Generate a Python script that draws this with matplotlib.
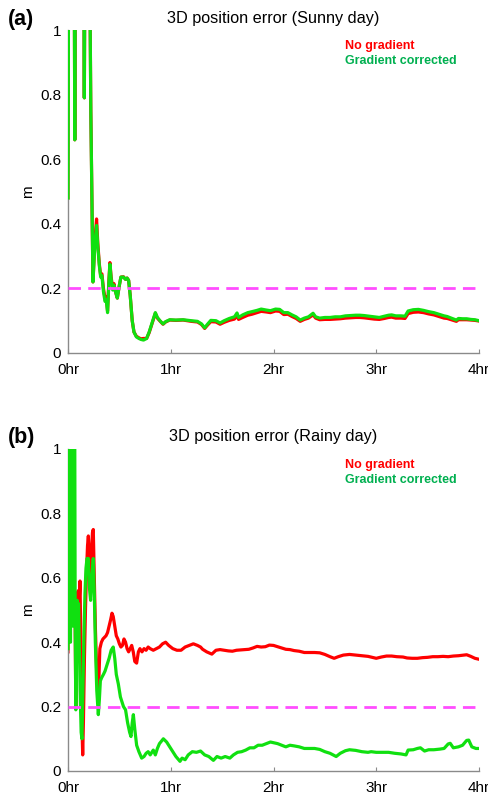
import matplotlib
matplotlib.use("Agg")
import matplotlib.pyplot as plt

# ---------------- data ----------------
sunny_t = [0.000, 0.008, 0.058, 0.066, 0.074, 0.150, 0.159, 0.168, 0.205, 0.222,
           0.243, 0.262, 0.278, 0.290, 0.305, 0.318, 0.330, 0.345, 0.360, 0.372,
           0.385, 0.398, 0.408, 0.420, 0.435, 0.447, 0.462, 0.480, 0.500, 0.515,
           0.540, 0.560, 0.575, 0.590, 0.605, 0.625, 0.642, 0.665, 0.690, 0.710,
           0.735, 0.765, 0.790, 0.820, 0.850, 0.870, 0.895, 0.925, 0.950, 0.990,
           1.05, 1.12, 1.20, 1.26, 1.30, 1.33, 1.36, 1.39, 1.44, 1.48,
           1.52, 1.57, 1.62, 1.645, 1.66, 1.70, 1.75, 1.79, 1.84, 1.88,
           1.93, 1.97, 2.02, 2.06, 2.10, 2.14, 2.18, 2.22, 2.26, 2.30,
           2.34, 2.385, 2.41, 2.45, 2.50, 2.55, 2.60, 2.65, 2.70, 2.75,
           2.80, 2.84, 2.88, 2.93, 2.98, 3.03, 3.08, 3.12, 3.15, 3.19,
           3.24, 3.28, 3.31, 3.36, 3.41, 3.46, 3.51, 3.56, 3.61, 3.66,
           3.69, 3.73, 3.78, 3.80, 3.84, 3.88, 3.92, 3.96, 4.00]
sunny_green = [0.48, 1.5, 1.5, 0.66, 1.5, 1.5, 0.79, 1.5, 1.5, 0.75,
               0.22, 0.34, 0.395, 0.33, 0.27, 0.235, 0.24, 0.19, 0.16, 0.165,
               0.125, 0.22, 0.275, 0.23, 0.195, 0.21, 0.19, 0.17, 0.21, 0.235,
               0.235, 0.228, 0.232, 0.225, 0.18, 0.10, 0.065, 0.05, 0.045, 0.042,
               0.04, 0.045, 0.065, 0.095, 0.125, 0.11, 0.10, 0.09, 0.097, 0.103,
               0.102, 0.103, 0.100, 0.098, 0.09, 0.078, 0.09, 0.101, 0.10, 0.093,
               0.10, 0.107, 0.112, 0.124, 0.11, 0.118, 0.125, 0.128, 0.132, 0.136,
               0.133, 0.131, 0.136, 0.135, 0.125, 0.125, 0.118, 0.112, 0.102, 0.108,
               0.112, 0.123, 0.112, 0.108, 0.110, 0.110, 0.112, 0.112, 0.115, 0.116,
               0.117, 0.117, 0.116, 0.114, 0.112, 0.110, 0.114, 0.117, 0.118, 0.115,
               0.115, 0.114, 0.130, 0.134, 0.135, 0.132, 0.128, 0.125, 0.120, 0.115,
               0.113, 0.108, 0.102, 0.107, 0.106, 0.106, 0.104, 0.103, 0.100]
sunny_red = [0.48, 1.5, 1.5, 0.66, 1.5, 1.5, 0.79, 1.5, 1.5, 0.75,
             0.22, 0.35, 0.415, 0.34, 0.275, 0.24, 0.245, 0.20, 0.17, 0.175,
             0.13, 0.225, 0.28, 0.235, 0.20, 0.215, 0.19, 0.17, 0.21, 0.235,
             0.236, 0.228, 0.232, 0.225, 0.18, 0.10, 0.065, 0.052, 0.047, 0.044,
             0.045, 0.045, 0.063, 0.093, 0.123, 0.108, 0.099, 0.089, 0.096, 0.102,
             0.101, 0.102, 0.098, 0.096, 0.088, 0.076, 0.087, 0.097, 0.096, 0.089,
             0.095, 0.101, 0.105, 0.116, 0.104, 0.110, 0.117, 0.120, 0.125, 0.129,
             0.127, 0.125, 0.130, 0.129, 0.119, 0.120, 0.113, 0.107, 0.098, 0.104,
             0.108, 0.118, 0.108, 0.103, 0.104, 0.104, 0.105, 0.106, 0.108, 0.109,
             0.110, 0.110, 0.109, 0.107, 0.105, 0.104, 0.107, 0.110, 0.111, 0.108,
             0.108, 0.107, 0.122, 0.126, 0.127, 0.125, 0.121, 0.118, 0.113, 0.108,
             0.107, 0.103, 0.098, 0.103, 0.103, 0.103, 0.102, 0.101, 0.099]

rainy_green_t = [0.000, 0.005, 0.011, 0.017, 0.024, 0.030, 0.036, 0.041, 0.047, 0.053,
                 0.059, 0.064, 0.070, 0.076, 0.083, 0.090, 0.097, 0.103, 0.110, 0.118,
                 0.128, 0.136, 0.145, 0.155, 0.165, 0.175, 0.185, 0.198, 0.208, 0.220,
                 0.232, 0.246, 0.256, 0.266, 0.280, 0.295, 0.305, 0.315, 0.328, 0.345,
                 0.360, 0.380, 0.400, 0.420, 0.440, 0.455, 0.470, 0.490, 0.510, 0.540,
                 0.560, 0.580, 0.600, 0.613, 0.625, 0.636, 0.650, 0.668, 0.690, 0.717,
                 0.740, 0.760, 0.780, 0.800, 0.830, 0.850, 0.870, 0.890, 0.928, 0.960,
                 0.990, 1.02, 1.05, 1.09, 1.11, 1.14, 1.17, 1.21, 1.25, 1.29,
                 1.33, 1.37, 1.415, 1.45, 1.49, 1.53, 1.575, 1.61, 1.65, 1.69,
                 1.73, 1.77, 1.81, 1.85, 1.89, 1.93, 1.97, 2.00, 2.04, 2.08,
                 2.12, 2.16, 2.20, 2.25, 2.30, 2.35, 2.40, 2.45, 2.50, 2.55,
                 2.58, 2.61, 2.65, 2.70, 2.74, 2.80, 2.86, 2.92, 2.95, 3.00,
                 3.06, 3.12, 3.18, 3.24, 3.29, 3.31, 3.36, 3.40, 3.43, 3.47,
                 3.51, 3.56, 3.62, 3.66, 3.70, 3.72, 3.75, 3.80, 3.84, 3.88,
                 3.90, 3.93, 3.97, 4.00]
rainy_green = [0.38, 1.3, 0.42, 1.3, 0.40, 0.95, 0.50, 1.3, 0.45, 1.3,
               0.50, 1.3, 0.45, 0.19, 0.35, 0.53, 0.50, 0.52, 0.40, 0.25,
               0.12, 0.10, 0.25, 0.42, 0.55, 0.63, 0.66, 0.66, 0.57, 0.53,
               0.60, 0.66, 0.55, 0.40, 0.25, 0.175, 0.22, 0.28, 0.29, 0.30,
               0.31, 0.33, 0.35, 0.375, 0.385, 0.35, 0.30, 0.27, 0.23, 0.20,
               0.19, 0.15, 0.12, 0.107, 0.15, 0.175, 0.13, 0.08, 0.06, 0.04,
               0.045, 0.055, 0.06, 0.05, 0.065, 0.05, 0.07, 0.085, 0.10, 0.09,
               0.075, 0.06, 0.045, 0.03, 0.04, 0.035, 0.05, 0.06, 0.058, 0.062,
               0.05, 0.045, 0.033, 0.045, 0.04, 0.045, 0.04, 0.05, 0.058, 0.06,
               0.065, 0.072, 0.072, 0.08, 0.08, 0.085, 0.09, 0.088, 0.085, 0.08,
               0.075, 0.08, 0.078, 0.075, 0.07, 0.07, 0.07, 0.067, 0.06, 0.055,
               0.05, 0.045, 0.055, 0.063, 0.066, 0.064, 0.06, 0.058, 0.06, 0.058,
               0.058, 0.058, 0.055, 0.053, 0.05, 0.065, 0.066, 0.07, 0.072, 0.062,
               0.066, 0.066, 0.068, 0.07, 0.084, 0.086, 0.072, 0.075, 0.08, 0.095,
               0.096, 0.075, 0.07, 0.07]

rainy_red_t = [0.000, 0.005, 0.011, 0.020, 0.027, 0.034, 0.040, 0.047, 0.055, 0.062,
               0.070, 0.076, 0.083, 0.092, 0.100, 0.108, 0.117, 0.125, 0.135, 0.143,
               0.150, 0.160, 0.170, 0.180, 0.190, 0.198, 0.208, 0.218, 0.228, 0.238,
               0.246, 0.256, 0.266, 0.278, 0.290, 0.300, 0.310, 0.325, 0.340, 0.355,
               0.370, 0.385, 0.400, 0.415, 0.428, 0.440, 0.455, 0.470, 0.485, 0.500,
               0.515, 0.530, 0.545, 0.560, 0.575, 0.590, 0.605, 0.620, 0.635, 0.650,
               0.668, 0.685, 0.700, 0.720, 0.740, 0.760, 0.780, 0.800, 0.830, 0.860,
               0.890, 0.920, 0.950, 0.980, 1.02, 1.06, 1.10, 1.14, 1.18, 1.22,
               1.26, 1.29, 1.31, 1.35, 1.40, 1.44, 1.48, 1.52, 1.56, 1.60,
               1.64, 1.68, 1.72, 1.76, 1.80, 1.84, 1.88, 1.92, 1.96, 2.00,
               2.04, 2.08, 2.12, 2.16, 2.20, 2.25, 2.30, 2.35, 2.40, 2.45,
               2.50, 2.55, 2.59, 2.63, 2.68, 2.74, 2.80, 2.86, 2.92, 2.96,
               3.00, 3.05, 3.10, 3.15, 3.20, 3.26, 3.30, 3.35, 3.40, 3.45,
               3.50, 3.55, 3.60, 3.65, 3.70, 3.75, 3.80, 3.85, 3.88, 3.92,
               3.96, 4.00]
rainy_red = [0.37, 0.95, 0.42, 0.88, 0.45, 0.60, 0.50, 0.55, 0.48, 0.52,
             0.45, 0.20, 0.40, 0.55, 0.56, 0.52, 0.59, 0.40, 0.15, 0.05,
             0.15, 0.35, 0.50, 0.62, 0.70, 0.73, 0.65, 0.60, 0.68, 0.74,
             0.75, 0.60, 0.45, 0.32, 0.25, 0.28, 0.38, 0.40, 0.41, 0.415,
             0.42, 0.43, 0.45, 0.47, 0.49, 0.48, 0.45, 0.42, 0.41, 0.395,
             0.385, 0.39, 0.41, 0.40, 0.38, 0.37, 0.38, 0.39, 0.37, 0.34,
             0.335, 0.37, 0.38, 0.37, 0.38, 0.375, 0.385, 0.38, 0.375, 0.38,
             0.385, 0.395, 0.40, 0.39, 0.38, 0.375, 0.375, 0.385, 0.39, 0.395,
             0.39, 0.385, 0.378, 0.37, 0.363, 0.375, 0.377, 0.375, 0.373, 0.372,
             0.375, 0.376, 0.377, 0.378, 0.382, 0.387, 0.385, 0.386, 0.391, 0.390,
             0.386, 0.382, 0.378, 0.377, 0.374, 0.372, 0.368, 0.368, 0.368, 0.367,
             0.362, 0.355, 0.350, 0.355, 0.360, 0.362, 0.360, 0.358, 0.356, 0.353,
             0.350, 0.354, 0.357, 0.357, 0.355, 0.354, 0.351, 0.350, 0.350, 0.352,
             0.353, 0.355, 0.355, 0.356, 0.355, 0.357, 0.358, 0.360, 0.361, 0.356,
             0.350, 0.347]

threshold = 0.2
x_ticks = [0, 1, 2, 3, 4]
x_labels = ["0hr", "1hr", "2hr", "3hr", "4hr"]
y_ticks = [0, 0.2, 0.4, 0.6, 0.8, 1]
y_labels = ["0", "0.2", "0.4", "0.6", "0.8", "1"]
titles = ["3D position error (Sunny day)", "3D position error (Rainy day)"]
panel_tags = ["(a)", "(b)"]
legend_names = ["No gradient", "Gradient corrected"]

RED = "#ff0000"
GREEN = "#10e010"
LEG_GREEN = "#00b050"
MAGENTA = "#ff4dff"
GRAY = "#8a8a8a"
FONT = ["Liberation Sans", "DejaVu Sans"]

W, H = 489, 797
fig = plt.figure(figsize=(W / 100, H / 100), dpi=100)

ax_specs = [(30, 353), (449, 771)]
series = [((sunny_t, sunny_red), (sunny_t, sunny_green)),
          ((rainy_red_t, rainy_red), (rainy_green_t, rainy_green))]

for i, (top, bot) in enumerate(ax_specs):
    ax = fig.add_axes([68 / W, 1 - bot / H, 411 / W, (bot - top) / H])
    (rt, rv), (gt, gv) = series[i]
    ax.plot(rt, rv, color=RED, lw=2.3, solid_joinstyle="round", zorder=2)
    ax.plot(gt, gv, color=GREEN, lw=2.3, solid_joinstyle="round", zorder=3)
    ax.plot([0, 4], [threshold, threshold], color=MAGENTA, lw=2.0,
            dashes=(4.5, 2.6), zorder=4)
    ax.set_xlim(0, 4)
    ax.set_ylim(0, 1)
    ax.set_xticks(x_ticks)
    ax.set_xticklabels(x_labels, fontfamily=FONT, fontsize=11)
    ax.set_yticks(y_ticks)
    ax.set_yticklabels(y_labels, fontfamily=FONT, fontsize=11)
    for s in ("top", "right"):
        ax.spines[s].set_visible(False)
    for s in ("left", "bottom"):
        ax.spines[s].set_color(GRAY)
        ax.spines[s].set_linewidth(1.0)
    ax.tick_params(axis="x", direction="in", length=3, color=GRAY, pad=7)
    ax.tick_params(axis="y", direction="in", length=0, color=GRAY, pad=5)
    ax.set_facecolor("white")

    cy = (top + bot) / 2
    fig.text(28 / W, 1 - cy / H, "m", rotation=90, ha="center", va="center",
             fontfamily=FONT, fontsize=11)
    fig.text(273.5 / W, 1 - (top - 12) / H, titles[i], ha="center", va="center",
             fontfamily=FONT, fontsize=11.7)
    fig.text(8 / W, 1 - (top - 11) / H, panel_tags[i], ha="left", va="center",
             fontfamily=FONT, fontsize=15.5, fontweight="bold")
    fig.text(345 / W, 1 - (top + 16) / H, legend_names[0], ha="left", va="center",
             color=RED, fontfamily=FONT, fontsize=9, fontweight="bold")
    fig.text(345 / W, 1 - (top + 31) / H, legend_names[1], ha="left", va="center",
             color=LEG_GREEN, fontfamily=FONT, fontsize=9, fontweight="bold")

fig.savefig("out.png", dpi=100, facecolor="white")
